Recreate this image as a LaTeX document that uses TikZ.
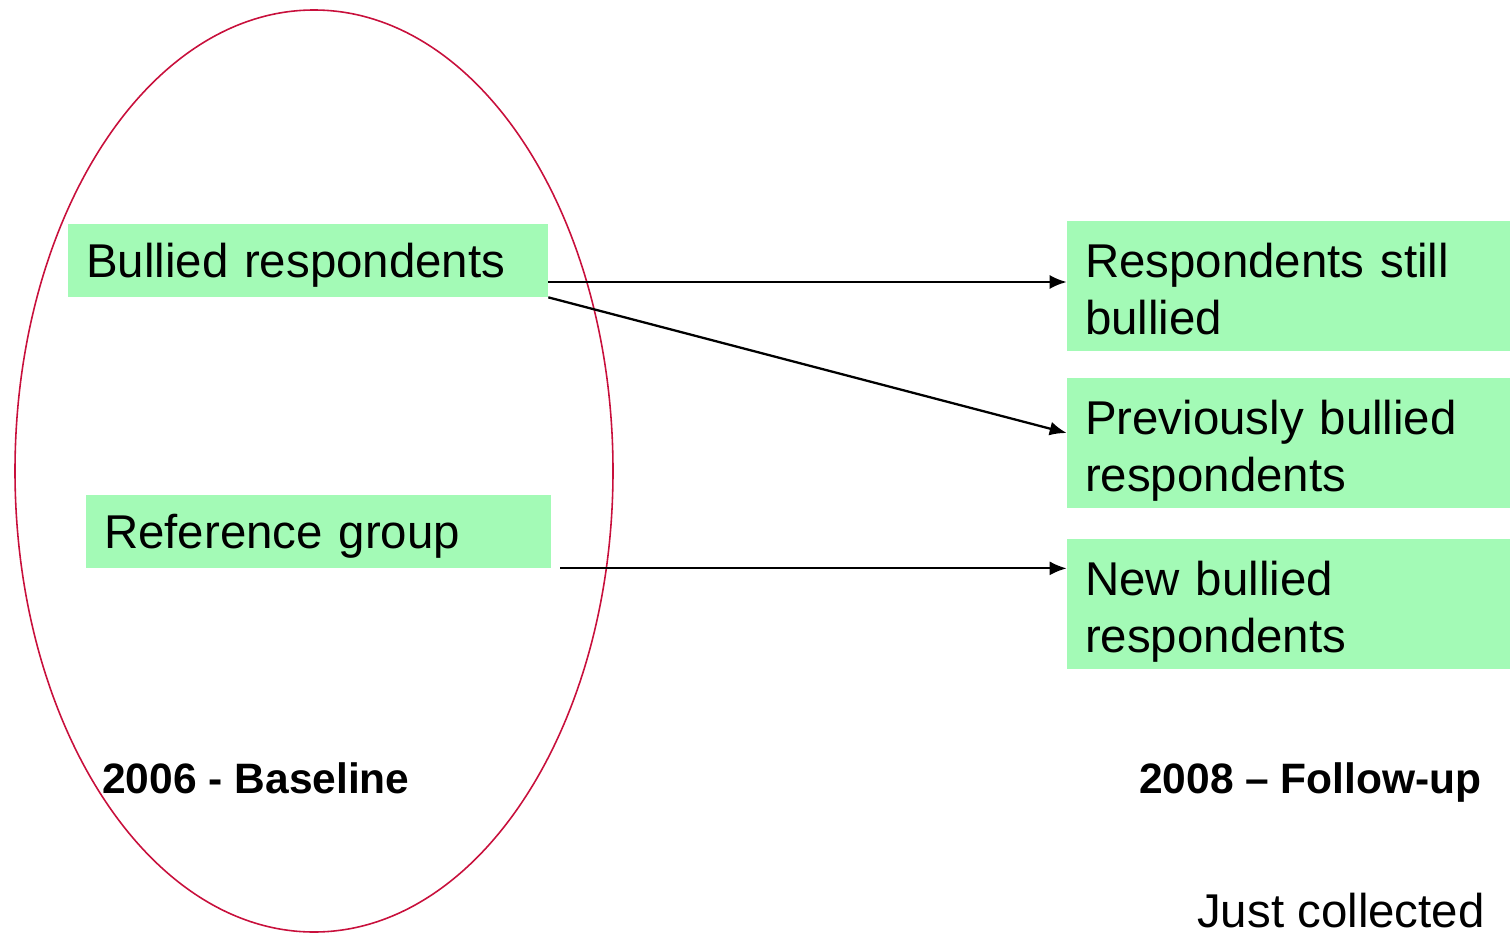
\documentclass[tikz,border=0pt]{standalone}
\usepackage{fontspec}
\setmainfont{Liberation Sans}
\usetikzlibrary{arrows.meta}
\definecolor{boxgreen}{HTML}{A3FAB6}
\definecolor{ringred}{HTML}{C8103C}

\begin{document}
\begin{tikzpicture}[x=0.02cm, y=-0.02cm,
  groupbox/.style={fill=boxgreen, inner xsep=0.36cm, inner ysep=0pt, align=left,
    font=\fontsize{27}{33}\selectfont},
  leftbox/.style={groupbox, text height=1.06cm, text depth=0.4cm},
  rightbox/.style={groupbox, minimum width=8.86cm, text width=8.14cm, text height=1.12cm, text depth=1.48cm},
  link/.style={line width=1.3pt, -{Latex[length=0.34cm, width=0.28cm]}},
  yearlabel/.style={font=\fontsize{24.2}{28}\selectfont\bfseries, inner sep=0pt}]
\useasboundingbox (0,0) rectangle (1510,933);
\draw[ringred, line width=0.9pt] (314,471) ellipse [x radius=299, y radius=461];
\node[leftbox, text width=8.88cm] (bullied) at (308,260.5) {Bullied respondents};
\node[leftbox, text width=8.58cm] (reference) at (318.5,531.5) {Reference group};
\node[rightbox] (still) at (1288.5,286) {Respondents still\\bullied};
\node[rightbox] (previous) at (1288.5,443) {Previously bullied\\respondents};
\node[rightbox] (new) at (1288.5,604) {New bullied\\respondents};
\node[yearlabel, anchor=base west] (baseline) at (102,793) {2006 - Baseline};
\node[yearlabel, anchor=base east] (followup) at (1482,793) {2008 – Follow-up};
\node[font=\fontsize{27}{33}\selectfont, inner sep=0pt, anchor=base east] (collected) at (1485,927) {Just collected};
\draw[link] ([yshift=0.08cm]bullied.east |- still.west) -- ([yshift=0.08cm]still.west);
\draw[link] (bullied.south east) -- ([yshift=0.2cm]previous.west);
\draw[link] ([xshift=0.18cm]reference.south east) -- (reference.south east -| new.west);
\end{tikzpicture}
\end{document}
